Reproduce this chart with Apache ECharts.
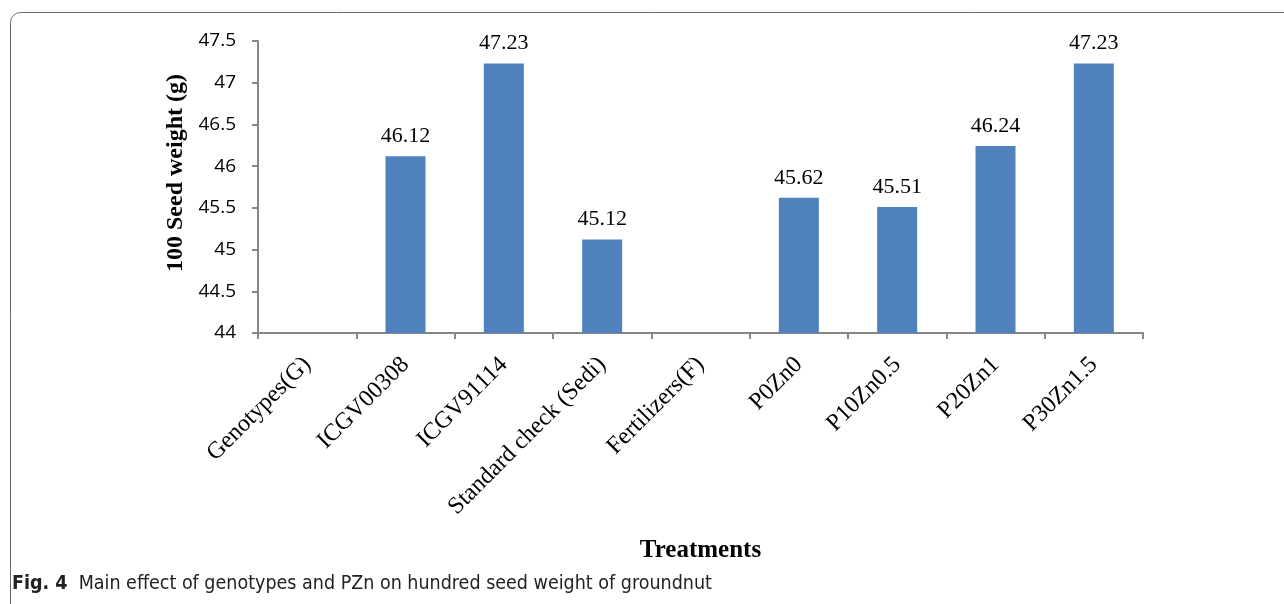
<!DOCTYPE html>
<html>
<head>
<meta charset="utf-8">
<title>100 Seed weight</title>
<script src="https://cdn.jsdelivr.net/npm/echarts@6/dist/echarts.min.js"></script>
<style>
  html, body { margin: 0; padding: 0; background: #fff; }
  #chart { width: 1284px; height: 604px; }
</style>
</head>
<body>
<div id="chart"></div>
<script>
// Treatments (group headers carry no bar)
const categories = [
  'Genotypes(G)', 'ICGV00308', 'ICGV91114', 'Standard check (Sedi)',
  'Fertilizers(F)', 'P0Zn0', 'P10Zn0.5', 'P20Zn1', 'P30Zn1.5'
];
// 100 seed weight (g)
const seedWeight = [null, 46.12, 47.23, 45.12, null, 45.62, 45.51, 46.24, 47.23];

const yMin = 44, yMax = 47.5, yStep = 0.5;

const chart = echarts.init(document.getElementById('chart'));
const serif = '"Liberation Serif", "Times New Roman", serif';
const sans = '"Open Sans", "Noto Sans", sans-serif';
const captionFont = '"DejaVu Sans Condensed", "Liberation Sans Narrow", sans-serif';
const axisGray = '#868686';

chart.setOption({
  animation: false,
  backgroundColor: '#fff',
  grid: { left: 258, right: 141, top: 41, bottom: 271, containLabel: false },
  xAxis: {
    type: 'category',
    data: categories,
    name: 'Treatments',
    nameLocation: 'middle',
    nameGap: 205,
    nameTextStyle: { fontFamily: serif, fontWeight: 'bold', fontSize: 25, color: '#000' },
    axisLine: { lineStyle: { color: axisGray, width: 2 } },
    axisTick: { show: true, length: 6, lineStyle: { color: axisGray, width: 2 } },
    axisLabel: { rotate: 45, interval: 0, margin: 28, fontFamily: serif, fontSize: 24, color: '#000' }
  },
  yAxis: {
    type: 'value',
    min: yMin, max: yMax, interval: yStep,
    axisLine: { show: true, lineStyle: { color: axisGray, width: 2 } },
    axisTick: { show: true, length: 6, lineStyle: { color: axisGray, width: 2 } },
    splitLine: { show: false },
    axisLabel: { margin: 22, fontFamily: sans, fontSize: 19, color: '#000' }
  },
  series: [{
    type: 'bar',
    data: seedWeight,
    barWidth: 40,
    itemStyle: { color: '#4F81BD' },
    label: {
      show: true, position: 'top', distance: 9,
      fontFamily: serif, fontSize: 22, color: '#000',
      formatter: p => p.value == null ? '' : p.value.toFixed(2)
    }
  }],
  graphic: [
    {
      type: 'rect',
      shape: { x: 10.5, y: 12.5, width: 1400, height: 700, r: 10 },
      style: { fill: 'none', stroke: '#6a6a6a', lineWidth: 1 },
      silent: true
    },
    {
      type: 'text', x: 176, y: 173, rotation: Math.PI / 2,
      style: {
        text: '100 Seed weight (g)',
        fontFamily: serif, fontWeight: 'bold', fontSize: 24, fill: '#000',
        align: 'center', verticalAlign: 'middle'
      }
    },
    {
      type: 'text', left: 12, top: 574,
      style: {
        text: '{b|Fig. 4}  Main effect of genotypes and PZn on hundred seed weight of groundnut',
        fontFamily: captionFont, fontSize: 19.5, fill: '#222',
        rich: { b: { fontFamily: captionFont, fontSize: 19.5, fontWeight: 'bold', fill: '#222' } }
      }
    }
  ]
});
</script>
</body>
</html>
